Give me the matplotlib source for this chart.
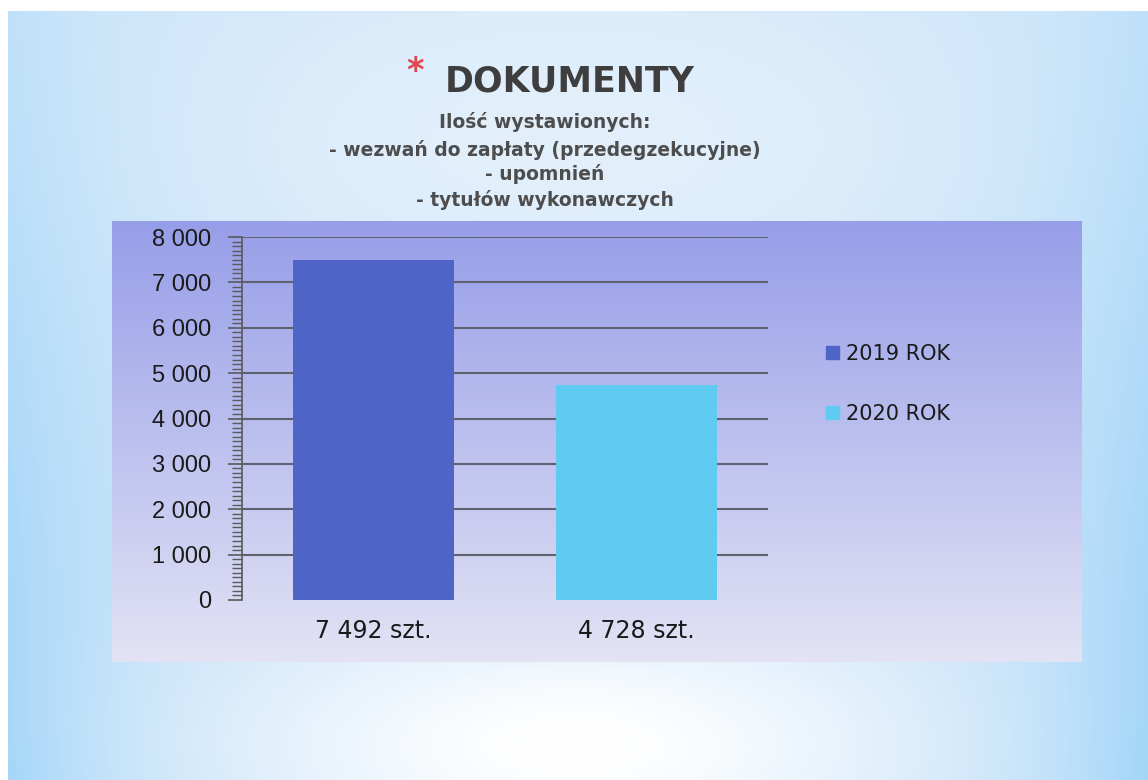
import numpy as np
import matplotlib
matplotlib.use("Agg")
import matplotlib.pyplot as plt
from matplotlib.patches import Patch
from matplotlib.ticker import MultipleLocator, FuncFormatter

# dane
serie = ['2019 ROK', '2020 ROK']
wartosci = [7492, 4728]
etykiety = ['7 492 szt.', '4 728 szt.']
kolory = ['#4f64c7', '#5fcbf1']

tytul = 'DOKUMENTY'
podtytul = ['Ilość wystawionych:',
            '- wezwań do zapłaty (przedegzekucyjne)',
            '- upomnień',
            '- tytułów wykonawczych']

W, H = 1148, 780
fig = plt.figure(figsize=(W / 100, H / 100), dpi=100)

# tło slajdu
bg = fig.add_axes([0, 0, 1, 1])
X, Y = np.meshgrid(np.arange(W), np.arange(H))
dx = (X - W / 2) / (W / 2)
jasny = np.array([0.83, 0.91, 0.98])
ciemny = np.array([0.62, 0.83, 0.97])
bok = np.clip(np.abs(dx), 0, 1) ** 4 * (0.4 + 0.6 * Y / H)
img = jasny * (1 - bok[..., None]) + ciemny * bok[..., None]
blask = np.exp(-((X - 574) / 320) ** 2 - ((Y - 745) / 120) ** 2)
blask = np.maximum(blask, 0.35 * np.exp(-((X - 574) / 380) ** 2 - ((Y - 140) / 160) ** 2))
img = img * (1 - blask[..., None]) + blask[..., None]
img[:11, :] = 1
img[:, :8] = 1
bg.imshow(img, aspect='auto', extent=[0, W, H, 0])
bg.set_xlim(0, W)
bg.set_ylim(H, 0)
bg.axis('off')

# panel wykresu z gradientem
px0, px1, py0, py1 = 112, 1082, 221, 662
panel = fig.add_axes([px0 / W, 1 - py1 / H, (px1 - px0) / W, (py1 - py0) / H])
g = np.linspace(0, 1, 256)[:, None]
c_top = np.array([0.59, 0.62, 0.91])
c_bot = np.array([0.89, 0.89, 0.96])
grad = c_top * (1 - g[..., None]) + c_bot * g[..., None]
grad = np.repeat(grad, 2, axis=1)
panel.imshow(grad, aspect='auto', extent=[0, 1, 0, 1])
panel.axis('off')

# wykres słupkowy
ax = fig.add_axes([242 / W, 1 - 600 / H, (768 - 242) / W, (600 - 237) / H])
ax.patch.set_alpha(0)
x = np.arange(len(wartosci))
ax.bar(x, wartosci, width=0.61, color=kolory, zorder=3)
ax.set_xlim(-0.5, 1.5)
ax.set_ylim(0, 8000)
ax.yaxis.set_major_locator(MultipleLocator(1000))
ax.yaxis.set_minor_locator(MultipleLocator(100))
ax.yaxis.set_major_formatter(FuncFormatter(lambda v, p: f'{int(v):,}'.replace(',', ' ')))
ax.set_xticks(x)
ax.set_xticklabels(etykiety, fontsize=17, family='DejaVu Sans', color='#1a1a1a')
ax.tick_params(axis='x', length=0, pad=14)
ax.tick_params(axis='y', which='major', length=10, width=1.2, color='#5a5a5a',
               labelsize=17, pad=12, labelcolor='#1a1a1a')
ax.tick_params(axis='y', which='minor', length=7, width=1, color='#5a5a5a')
for lab in ax.get_yticklabels():
    lab.set_family('Liberation Sans')
for ytick in range(1000, 8001, 1000):
    ax.axhline(ytick, color='#5f6170', lw=1.5, zorder=1)
for s in ['top', 'right', 'bottom']:
    ax.spines[s].set_visible(False)
ax.spines['left'].set_color('#5a5a5a')
ax.spines['left'].set_linewidth(1.2)

# legenda
uchwyty = [Patch(color=k, label=s) for k, s in zip(kolory, serie)]
fig.legend(handles=uchwyty, loc='center left', bbox_to_anchor=(826 / W, 1 - 384 / H),
           frameon=False, fontsize=15, handlelength=0.6, handleheight=0.6,
           handletextpad=0.35, labelspacing=1.9, borderpad=0, borderaxespad=0,
           labelcolor='#1a1a1a')

# tytuł
fig.text(570 / W, 1 - 82 / H, tytul, ha='center', va='center', fontsize=25,
         fontweight='bold', color='#3e3e3e', family='DejaVu Sans')
fig.text(415 / W, 1 - 72 / H, '*', ha='center', va='center', fontsize=24,
         fontweight='bold', color='#e0474c', family='DejaVu Sans')
for yy, linia in zip([122, 150, 174, 200], podtytul):
    fig.text(545 / W, 1 - yy / H, linia, ha='center', va='center', fontsize=13.5,
             fontweight='bold', color='#4d4d4d', family='DejaVu Sans')

fig.savefig('out.png', dpi=100)
